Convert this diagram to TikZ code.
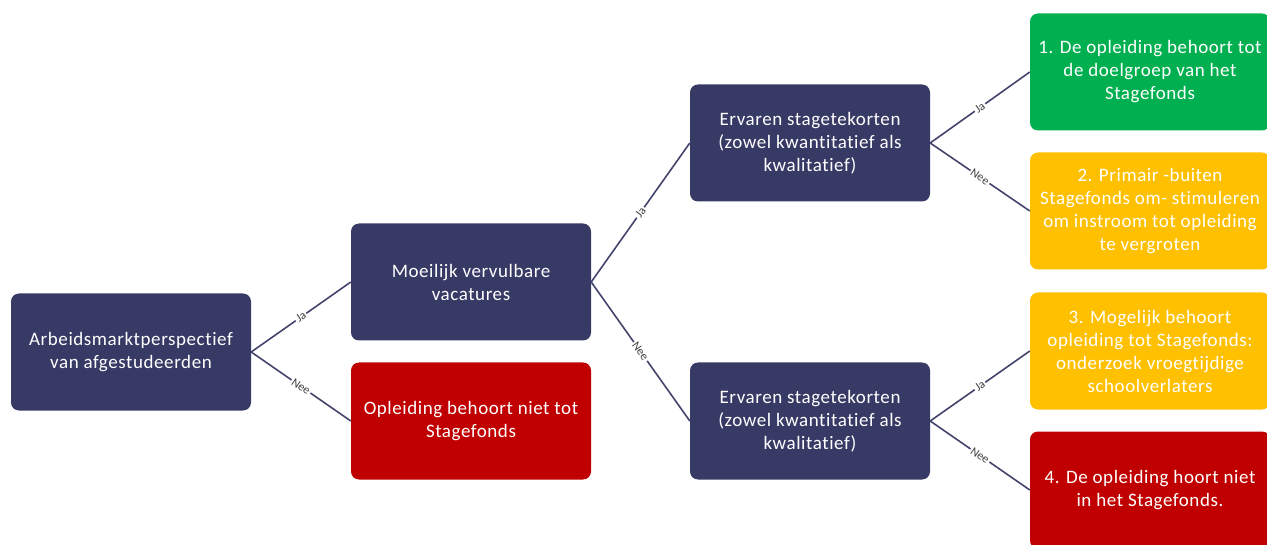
\documentclass[tikz,border=0pt]{standalone}
\usepackage{fontspec}
\setmainfont{Carlito}
\newfontfamily\boxfont[LetterSpace=3,Ligatures=NoCommon]{Carlito}
\definecolor{navy}{RGB}{56,58,102}
\definecolor{lijn}{RGB}{66,68,108}
\definecolor{rood}{RGB}{192,0,0}
\definecolor{groen}{RGB}{0,176,80}
\definecolor{geel}{RGB}{255,192,0}
\begin{document}
\begin{tikzpicture}[x=1pt, y=-1pt,
  box/.style={rounded corners=8pt, minimum width=240pt, minimum height=117pt,
    align=center, text=white, inner sep=2pt,
    font=\boxfont\fontsize{19}{23}\selectfont},
  vraag/.style={box, fill=navy},
  tak/.style={draw=lijn, line width=1.6pt},
  keuze/.style={sloped, fill=white, text=black!75, inner sep=1.5pt,
    font=\fontsize{12}{14}\selectfont}]
  \useasboundingbox (0,0) rectangle (1267,545);

  % Questions
  \node[vraag] (arbeid) at (131,352) {Arbeidsmarktperspectief\\van afgestudeerden};
  \node[vraag] (vacatures) at (471,282) {Moeilijk vervulbare\\vacatures};
  \node[vraag] (tekortA) at (810,143) {Ervaren stagetekorten\\(zowel kwantitatief als\\kwalitatief)};
  \node[vraag] (tekortB) at (810,421) {Ervaren stagetekorten\\(zowel kwantitatief als\\kwalitatief)};

  % Outcomes
  \node[box, fill=rood] (niet) at (471,421) {Opleiding behoort niet tot\\Stagefonds};
  \node[box, fill=groen] (doel) at (1150,72) {1. De opleiding behoort tot\\de doelgroep van het\\Stagefonds};
  \node[box, fill=geel] (buiten) at (1150,211) {2. Primair -buiten\\Stagefonds om- stimuleren\\om instroom tot opleiding\\te vergroten};
  \node[box, fill=geel] (mogelijk) at (1150,351) {3. Mogelijk behoort\\opleiding tot Stagefonds:\\onderzoek vroegtijdige\\schoolverlaters};
  \node[box, fill=rood] (hoortniet) at (1150,490) {4. De opleiding hoort niet\\in het Stagefonds.};

  % Branches
  \draw[tak] (arbeid.east) -- node[keuze] {Ja} (vacatures.west);
  \draw[tak] (arbeid.east) -- node[keuze] {Nee} (niet.west);
  \draw[tak] (vacatures.east) -- node[keuze] {Ja} (tekortA.west);
  \draw[tak] (vacatures.east) -- node[keuze] {Nee} (tekortB.west);
  \draw[tak] (tekortA.east) -- node[keuze] {Ja} (doel.west);
  \draw[tak] (tekortA.east) -- node[keuze] {Nee} (buiten.west);
  \draw[tak] (tekortB.east) -- node[keuze] {Ja} (mogelijk.west);
  \draw[tak] (tekortB.east) -- node[keuze] {Nee} (hoortniet.west);
\end{tikzpicture}
\end{document}
